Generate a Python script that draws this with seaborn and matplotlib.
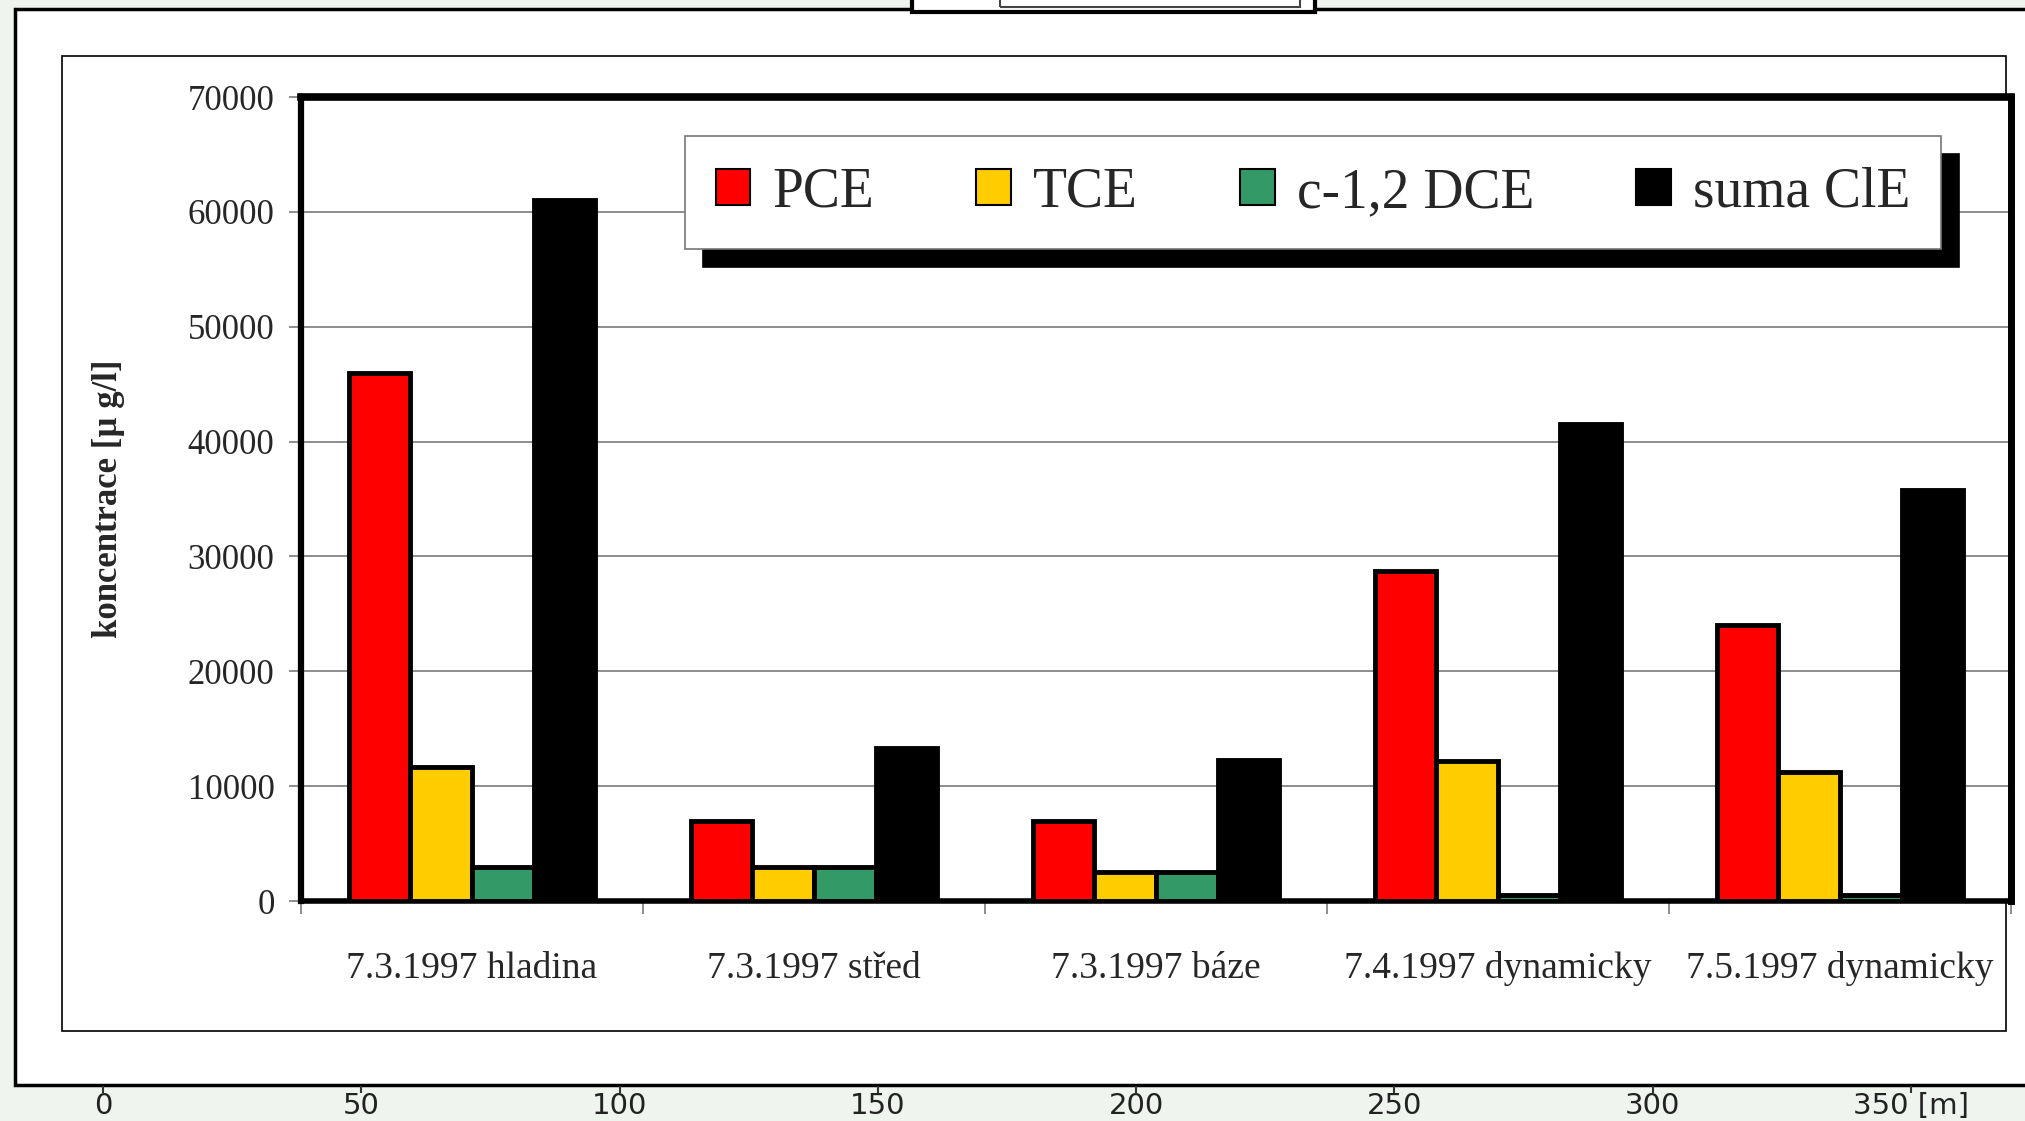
import matplotlib
matplotlib.use("Agg")
import matplotlib.pyplot as plt
from matplotlib.patches import Patch, Rectangle
import seaborn as sns
import pandas as pd

# ===================== data =====================
mista = ["7.3.1997 hladina", "7.3.1997 střed", "7.3.1997 báze",
         "7.4.1997 dynamicky", "7.5.1997 dynamicky"]
latky = ["PCE", "TCE", "c-1,2 DCE", "suma ClE"]
pce = [46000, 7000, 7000, 28700, 24000]
tce = [11700, 3000, 2500, 12200, 11200]
dce = [3000, 3000, 2500, 500, 500]
suma = [61000, 13300, 12300, 41500, 35800]
barvy = ["#ff0000", "#ffcc00", "#339966", "#000000"]
yticks = [0, 10000, 20000, 30000, 40000, 50000, 60000, 70000]
ruler_ticks = [0, 50, 100, 150, 200, 250, 300, 350]
ruler_labels = ["0", "50", "100", "150", "200", "250", "300", "350 [m]"]

rows = []
for i, m in enumerate(mista):
    for latka, vals in zip(latky, [pce, tce, dce, suma]):
        rows.append({"misto": m, "latka": latka, "hodnota": vals[i]})
df = pd.DataFrame(rows)

# ===================== figure =====================
sns.set_theme(style="white")
plt.rcParams["font.family"] = ["Liberation Serif", "DejaVu Serif"]

W, H = 2025, 1121
fig = plt.figure(figsize=(W / 100, H / 100), dpi=100)
fig.patch.set_facecolor("#eff4ef")

def fx(px):
    return px / W

def fy(py):
    return 1 - py / H

# outer frame (scanned page)
fig.patches.append(Rectangle((fx(15), fy(1085)), fx(2040) - fx(15), fy(9) - fy(1085),
                             transform=fig.transFigure, facecolor="white",
                             edgecolor="black", linewidth=2.5, zorder=-10))
# inner white box
fig.patches.append(Rectangle((fx(62), fy(1031)), fx(2006) - fx(62), fy(56) - fy(1031),
                             transform=fig.transFigure, facecolor="white",
                             edgecolor="black", linewidth=1.2, zorder=-9))
# fragment at the top edge
fig.patches.append(Rectangle((fx(912), fy(12)), fx(1315) - fx(912), 0.03,
                             transform=fig.transFigure, facecolor="white",
                             edgecolor="black", linewidth=3, zorder=-8))
fig.patches.append(Rectangle((fx(1000), fy(7)), fx(1300) - fx(1000), 0.03,
                             transform=fig.transFigure, facecolor="none",
                             edgecolor="#444444", linewidth=1.5, zorder=-7))

# ===================== main axes =====================
ax = fig.add_axes([fx(301), fy(901), fx(2011) - fx(301), fy(97) - fy(901)])
ax.set_facecolor("white")
sns.barplot(data=df, x="misto", y="hodnota", hue="latka", palette=barvy,
            hue_order=latky, order=mista, width=0.72, gap=0, saturation=1,
            edgecolor="black", linewidth=3.5, legend=False, ax=ax, zorder=3)

ax.set_ylim(0, 70000)
ax.set_xlim(-0.5, len(mista) - 0.5)
ax.set_yticks(yticks)
ax.set_yticklabels([str(v) for v in yticks], fontsize=25)
ax.yaxis.grid(True, color="#7a7a7a", linewidth=1.2, zorder=0)
ax.set_axisbelow(True)
ax.tick_params(axis="y", length=9, width=1.2, color="#7a7a7a", pad=10, left=True)

ax.set_xticks([i - 0.5 for i in range(len(mista) + 1)])
ax.set_xticklabels([])
ax.set_xticks(range(len(mista)), minor=True)
ax.set_xticklabels(mista, minor=True, fontsize=27)
ax.tick_params(axis="x", which="major", length=9, width=1.2, color="#7a7a7a", bottom=True)
ax.tick_params(axis="x", which="minor", length=0, pad=36)
ax.set_xlabel("")
ax.set_ylabel("koncentrace [µ g/l]", fontsize=25, fontweight="bold", labelpad=45)

for side, lw in [("left", 4.5), ("top", 5.5), ("right", 5), ("bottom", 4)]:
    ax.spines[side].set_visible(True)
    ax.spines[side].set_color("black")
    ax.spines[side].set_linewidth(lw)

# legend
handles = [Patch(facecolor=c, edgecolor="black", linewidth=1.5) for c in barvy]
leg = ax.legend(handles, latky, loc="center", ncol=4, mode="expand",
                bbox_to_anchor=(0.2246, 0.805, 0.7345, 0.1515),
                fontsize=40, frameon=True, fancybox=False,
                handlelength=0.62, handleheight=0.62, handletextpad=0.4,
                borderaxespad=0, borderpad=0.55,
                shadow={"ox": 13, "oy": -13, "color": "black", "alpha": 1})
leg.get_frame().set_edgecolor("#777777")
leg.get_frame().set_linewidth(1.2)
leg.get_frame().set_facecolor("white")
leg.get_frame().set_alpha(1)
leg.set_zorder(5)

# ===================== distance ruler =====================
axr = fig.add_axes([fx(103), fy(1086), fx(1911) - fx(103), 0.0001])
axr.set_xlim(0, 350)
axr.set_xticks(ruler_ticks)
axr.set_xticklabels(ruler_labels, fontsize=21,
                    family=["Liberation Sans Narrow", "DejaVu Sans"], color="#222222")
axr.set_yticks([])
for s in axr.spines.values():
    s.set_visible(False)
axr.patch.set_alpha(0)
axr.tick_params(axis="x", length=5, width=1.5, color="#333333", pad=-1, bottom=True)

plt.savefig("out.png", dpi=100, facecolor=fig.get_facecolor())
plt.close()
